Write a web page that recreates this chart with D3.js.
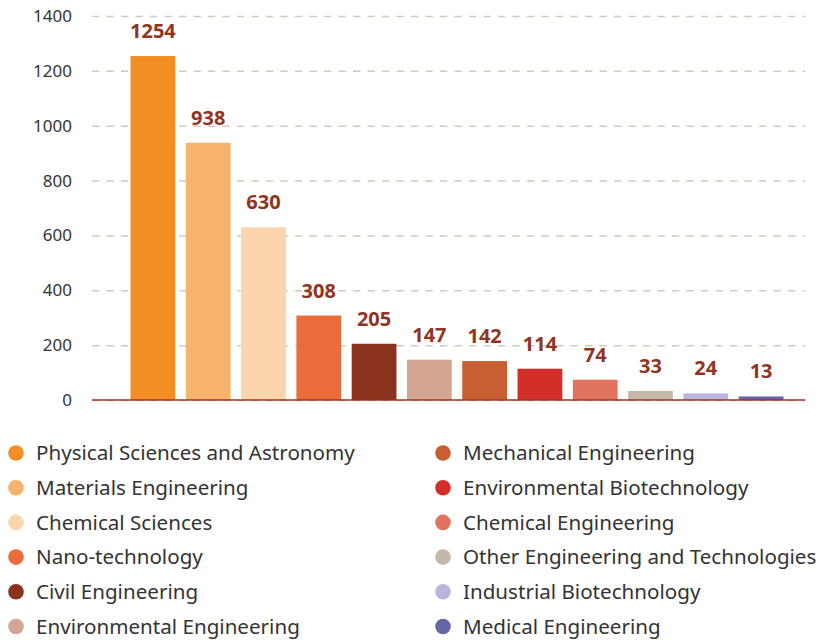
<!DOCTYPE html>
<html lang="en">
<head>
	<meta charset="UTF-8">
	<title>bar chart</title>
	<style>
		* {
			margin: 0;
			padding: 0;
		}
		body {
			background: #fff;
		}
		.svg {
			display: block;
		}
	</style>
</head>
<body>
	<script src="https://cdn.jsdelivr.net/npm/d3@7"></script>
	<script>
		// data
		var categories = [
			'Physical Sciences and Astronomy', 'Materials Engineering', 'Chemical Sciences',
			'Nano-technology', 'Civil Engineering', 'Environmental Engineering',
			'Mechanical Engineering', 'Environmental Biotechnology', 'Chemical Engineering',
			'Other Engineering and Technologies', 'Industrial Biotechnology', 'Medical Engineering'
		];
		var values = [1254, 938, 630, 308, 205, 147, 142, 114, 74, 33, 24, 13];
		var colors = [
			'#f28e23', '#f7b36b', '#fcd5ad', '#eb6c3b', '#8b321e', '#d4a593',
			'#c95e32', '#d42e29', '#e2735e', '#c4b8ab', '#b9b6dc', '#6466a8'
		];
		var yTicks = [0, 200, 400, 600, 800, 1000, 1200, 1400];

		var width = 822, height = 641;
		var plot = { left: 92, right: 805, top: 16, bottom: 400 };

		var svg = d3.select('body').append('svg')
			.attr('width', width).attr('height', height).classed('svg', true);

		var xScale = d3.scaleBand().domain(categories).range([125, 789])
			.paddingInner(0.19).paddingOuter(0.1);
		var yScale = d3.scaleLinear().domain([0, 1400]).range([plot.bottom, plot.top]);

		// gridlines + tick labels
		var yAxis = svg.append('g')
			.attr('transform', 'translate(' + plot.left + ',0)')
			.call(d3.axisLeft(yScale).tickValues(yTicks).tickFormat(d3.format('d'))
				.tickSize(-(plot.right - plot.left)).tickPadding(20));
		yAxis.select('.domain').remove();
		yAxis.selectAll('.tick line')
			.attr('stroke', '#d3c9bc')
			.attr('stroke-width', 1.5)
			.attr('stroke-dasharray', '7.3,7.2');
		yAxis.selectAll('.tick text')
			.style('font-family', '"Noto Sans", sans-serif')
			.style('font-size', '17px')
			.attr('fill', '#333');

		// bars
		svg.selectAll('.bar')
			.data(values)
			.enter()
			.append('rect')
			.classed('bar', true)
			.attr('x', function (d, i) { return xScale(categories[i]); })
			.attr('y', function (d) { return yScale(d); })
			.attr('width', xScale.bandwidth())
			.attr('height', function (d) { return yScale(0) - yScale(d); })
			.attr('fill', function (d, i) { return colors[i]; });

		// baseline
		svg.append('line')
			.attr('x1', plot.left).attr('x2', plot.right)
			.attr('y1', yScale(0)).attr('y2', yScale(0))
			.attr('stroke', '#a3341f')
			.attr('stroke-width', 1.5);

		// value labels
		svg.selectAll('.bar-label')
			.data(values)
			.enter()
			.append('text')
			.classed('bar-label', true)
			.attr('x', function (d, i) { return xScale(categories[i]) + xScale.bandwidth() / 2; })
			.attr('y', function (d) { return yScale(d) - 18; })
			.attr('text-anchor', 'middle')
			.style('font-family', '"Noto Sans", sans-serif')
			.style('font-weight', 'bold')
			.style('font-size', '20px')
			.attr('fill', '#8f3522')
			.text(function (d) { return d; });

		// legend, two columns of six
		var legend = svg.selectAll('.legend')
			.data(categories)
			.enter()
			.append('g')
			.classed('legend', true)
			.attr('transform', function (d, i) {
				var col = Math.floor(i / 6), row = i % 6;
				return 'translate(' + (col ? 443 : 16) + ',' + (453 + row * 34.7) + ')';
			});
		legend.append('circle')
			.attr('r', 7.8)
			.attr('fill', function (d, i) { return colors[i]; });
		legend.append('text')
			.attr('x', 20)
			.attr('dy', '0.35em')
			.style('font-family', '"Noto Sans", sans-serif')
			.style('font-size', '20.6px')
			.attr('fill', '#333')
			.text(function (d) { return d; });
	</script>
</body>
</html>
